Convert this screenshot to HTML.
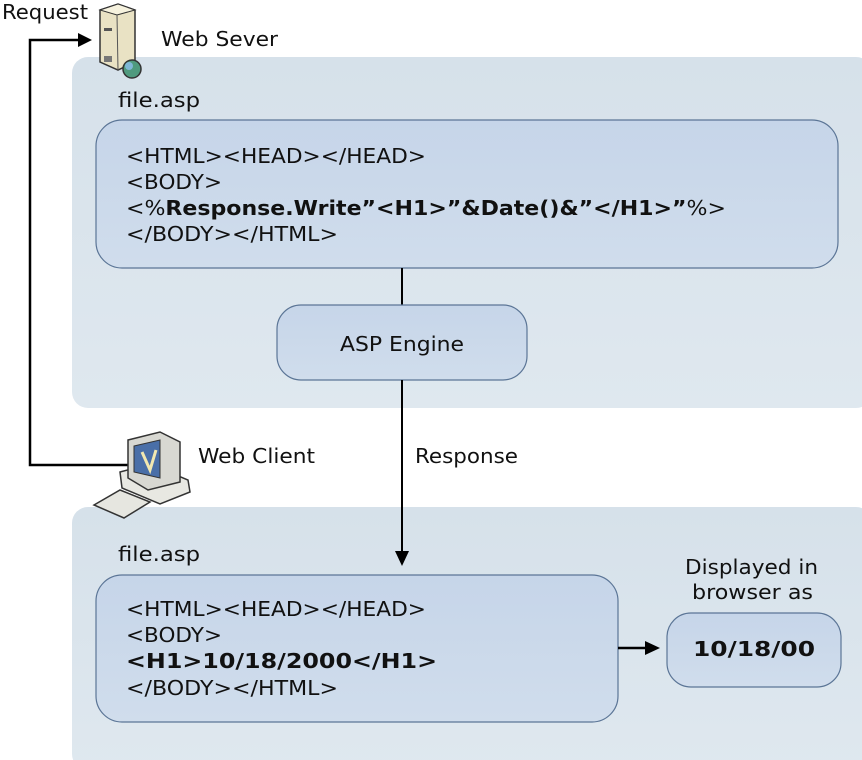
<!DOCTYPE html>
<html><head><meta charset="utf-8"><style>
html,body{margin:0;padding:0;background:#fff;}
svg{display:block;}
text{font-family:"DejaVu Sans","Liberation Sans",sans-serif;font-size:20px;fill:#111;}
.b{font-weight:bold;}
</style></head><body>
<svg width="862" height="760" viewBox="0 0 862 760" xmlns="http://www.w3.org/2000/svg">
<defs>
<linearGradient id="pg" x1="0" y1="0" x2="0" y2="1"><stop offset="0" stop-color="#d6e1ea"/><stop offset="1" stop-color="#dfe8ef"/></linearGradient>
<linearGradient id="bg" x1="0" y1="0" x2="0" y2="1"><stop offset="0" stop-color="#c6d5e9"/><stop offset="1" stop-color="#d0ddec"/></linearGradient>
</defs>
<rect x="72" y="57" width="800" height="351" rx="16" fill="url(#pg)"/>
<rect x="72" y="507" width="800" height="263" rx="16" fill="url(#pg)"/>
<polyline points="128,465 30,465 30,40 80,40" fill="none" stroke="#000" stroke-width="2.5"/>
<polygon points="92,40 78,33 78,47" fill="#000"/>
<text x="2" y="19" textLength="86" lengthAdjust="spacingAndGlyphs">Request</text>
<g>
<polygon points="100,10 118,4 135,10 135,62 118,70 100,62" fill="#e9e2c4" stroke="#333" stroke-width="1.5"/>
<polygon points="100,10 118,4 135,10 117,15" fill="#f6f2de" stroke="#333" stroke-width="1"/>
<line x1="117" y1="15" x2="118" y2="70" stroke="#555" stroke-width="1"/>
<rect x="104" y="28" width="8" height="3" fill="#555"/>
<rect x="104" y="56" width="8" height="6" fill="#777"/>
<circle cx="132" cy="69" r="9" fill="#4f9a7e" stroke="#333" stroke-width="1.5"/>
<circle cx="129" cy="66" r="4" fill="#7fb7d6"/>
</g>
<text x="161" y="46" textLength="117" lengthAdjust="spacingAndGlyphs">Web Sever</text>
<text x="118" y="107" textLength="82" lengthAdjust="spacingAndGlyphs">file.asp</text>
<rect x="96" y="120" width="742" height="148" rx="26" fill="url(#bg)" stroke="#5b7596" stroke-width="1.2"/>
<text x="126" y="163" textLength="300" lengthAdjust="spacingAndGlyphs">&lt;HTML&gt;&lt;HEAD&gt;&lt;/HEAD&gt;</text>
<text x="126" y="189" textLength="96" lengthAdjust="spacingAndGlyphs">&lt;BODY&gt;</text>
<text x="126" y="215" textLength="600" lengthAdjust="spacingAndGlyphs">&lt;%<tspan class="b">Response.Write”&lt;H1&gt;”&amp;Date()&amp;”&lt;/H1&gt;”</tspan>%&gt;</text>
<text x="126" y="241" textLength="212" lengthAdjust="spacingAndGlyphs">&lt;/BODY&gt;&lt;/HTML&gt;</text>
<line x1="402" y1="268" x2="402" y2="305" stroke="#000" stroke-width="2"/>
<rect x="277" y="305" width="250" height="75" rx="24" fill="url(#bg)" stroke="#5b7596" stroke-width="1.2"/>
<text x="340" y="351" textLength="124" lengthAdjust="spacingAndGlyphs">ASP Engine</text>
<line x1="402" y1="380" x2="402" y2="553" stroke="#000" stroke-width="2"/>
<polygon points="402,566 395,551 409,551" fill="#000"/>
<text x="415" y="463" textLength="103" lengthAdjust="spacingAndGlyphs">Response</text>
<g>
<polygon points="94,505 120,490 150,502 124,518" fill="#e6e6e0" stroke="#333" stroke-width="1.5"/>
<polygon points="120,472 150,464 188,480 190,492 160,504 122,488" fill="#e8e8e2" stroke="#333" stroke-width="1.5"/>
<polygon points="128,440 160,432 180,442 180,482 148,490 128,478" fill="#d8d8d2" stroke="#333" stroke-width="1.5"/>
<polygon points="134,446 160,440 160,478 134,472" fill="#4a6fa8" stroke="#333" stroke-width="1"/>
<path d="M142,452 L150,470 L156,450" stroke="#f2e8b0" stroke-width="3" fill="none"/>
</g>
<text x="198" y="463" textLength="117" lengthAdjust="spacingAndGlyphs">Web Client</text>
<text x="118" y="561" textLength="82" lengthAdjust="spacingAndGlyphs">file.asp</text>
<rect x="96" y="575" width="522" height="147" rx="26" fill="url(#bg)" stroke="#5b7596" stroke-width="1.2"/>
<text x="126" y="616" textLength="300" lengthAdjust="spacingAndGlyphs">&lt;HTML&gt;&lt;HEAD&gt;&lt;/HEAD&gt;</text>
<text x="126" y="642" textLength="96" lengthAdjust="spacingAndGlyphs">&lt;BODY&gt;</text>
<text x="126" y="668" class="b" textLength="311" lengthAdjust="spacingAndGlyphs">&lt;H1&gt;10/18/2000&lt;/H1&gt;</text>
<text x="126" y="695" textLength="212" lengthAdjust="spacingAndGlyphs">&lt;/BODY&gt;&lt;/HTML&gt;</text>
<line x1="618" y1="648" x2="648" y2="648" stroke="#000" stroke-width="2.5"/>
<polygon points="660,648 645,641 645,655" fill="#000"/>
<text x="685" y="574" textLength="133" lengthAdjust="spacingAndGlyphs">Displayed in</text>
<text x="692" y="599" textLength="121" lengthAdjust="spacingAndGlyphs">browser as</text>
<rect x="667" y="613" width="174" height="74" rx="24" fill="url(#bg)" stroke="#5b7596" stroke-width="1.2"/>
<text x="693" y="656" class="b" textLength="122" lengthAdjust="spacingAndGlyphs">10/18/00</text>
</svg>
</body></html>
